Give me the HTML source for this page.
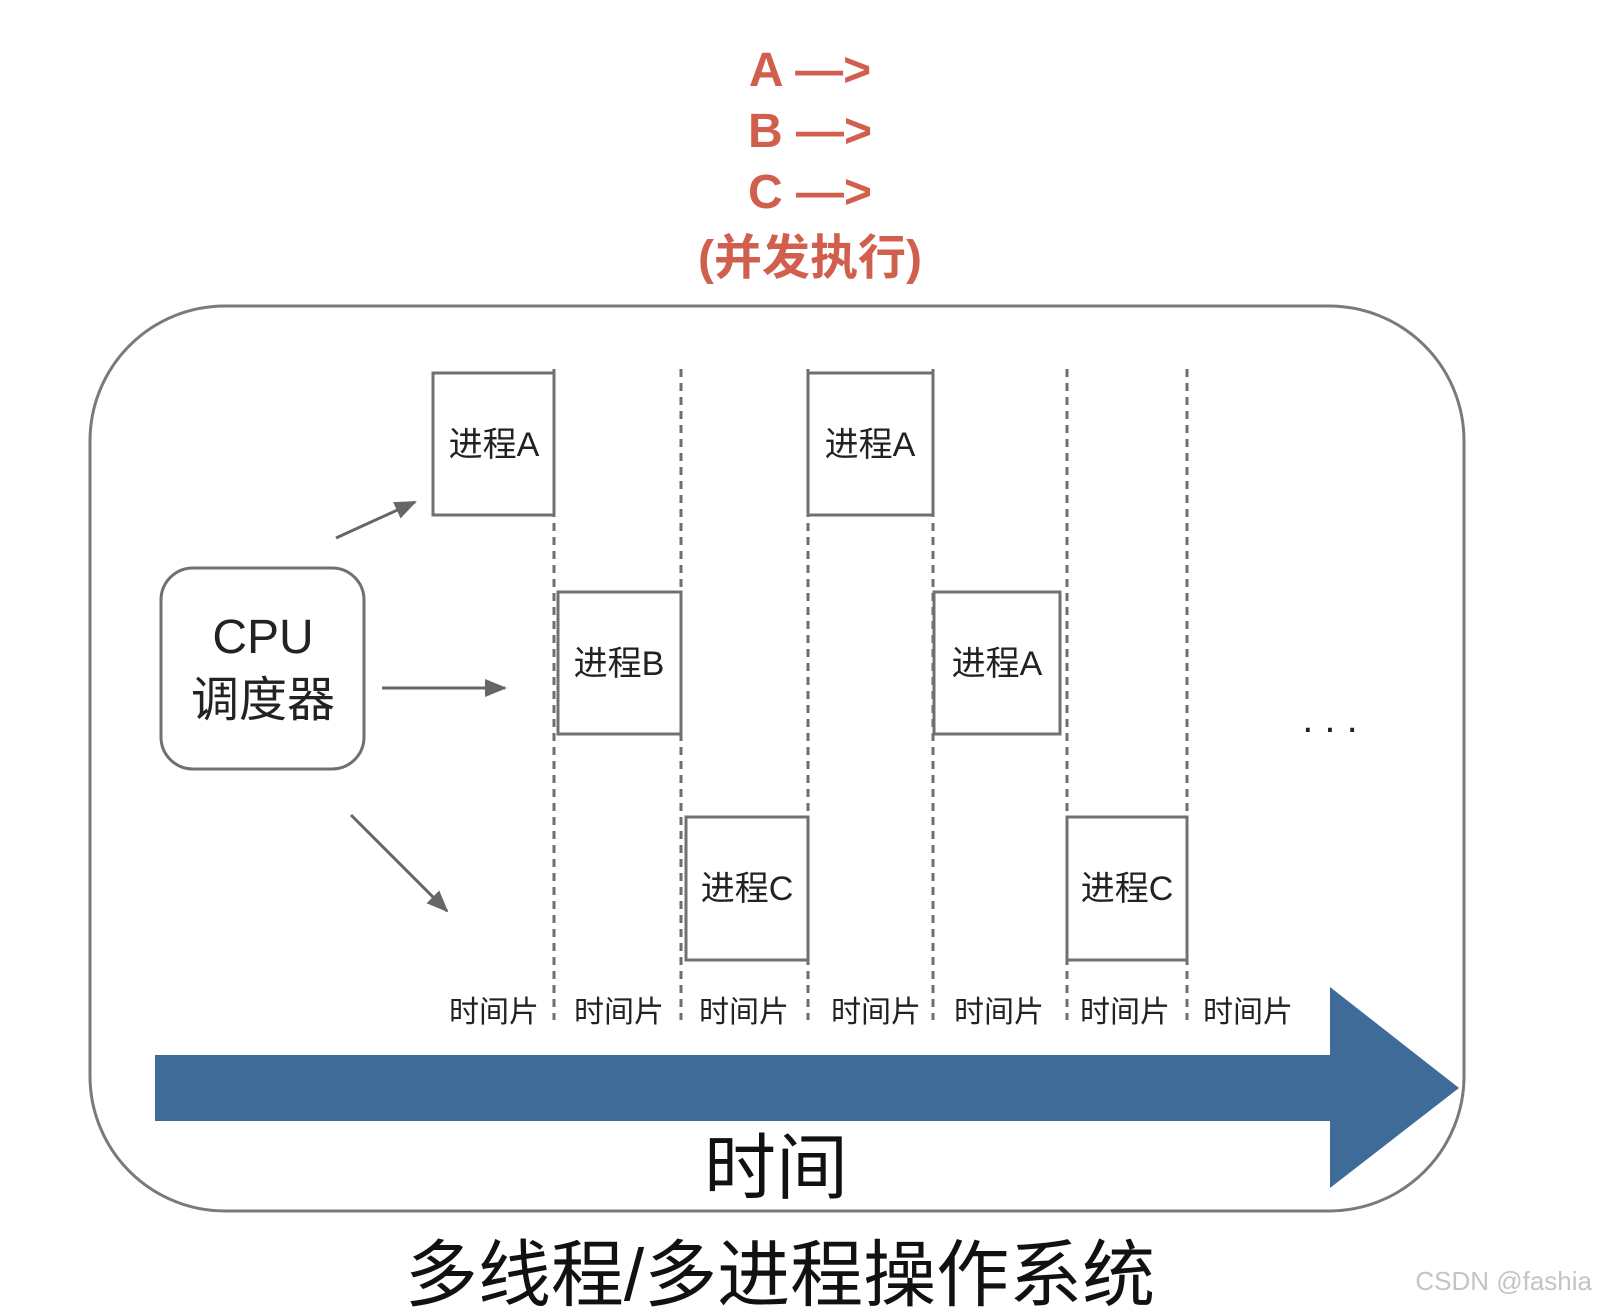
<!DOCTYPE html>
<html><head><meta charset="utf-8"><style>
body{margin:0;background:#fff;}
svg text{font-family:"Liberation Sans","Noto Sans CJK SC",sans-serif;}
</style></head><body>
<svg width="1598" height="1308" xmlns="http://www.w3.org/2000/svg">
<defs>
<marker id="ah" markerWidth="22" markerHeight="18" refX="20" refY="9" orient="auto" markerUnits="userSpaceOnUse" viewBox="0 0 22 18">
<path d="M0,0 L22,9 L0,18 z" fill="#666"/></marker>
</defs>
<rect width="1598" height="1308" fill="#fff"/>
<g fill="#d0604d" font-weight="bold" font-size="48" text-anchor="middle">
<text x="810" y="86">A —&gt;</text>
<text x="810" y="147">B —&gt;</text>
<text x="810" y="208">C —&gt;</text>
<text x="810" y="274">(并发执行)</text>
</g>
<rect x="90" y="306" width="1374" height="905" rx="135" fill="none" stroke="#7a7a7c" stroke-width="3"/>
<g stroke="#6e6e70" stroke-width="3" stroke-dasharray="8,6">
<line x1="554" y1="369" x2="554" y2="1020"/>
<line x1="681" y1="369" x2="681" y2="1020"/>
<line x1="808" y1="369" x2="808" y2="1020"/>
<line x1="933" y1="369" x2="933" y2="1020"/>
<line x1="1067" y1="369" x2="1067" y2="1020"/>
<line x1="1187" y1="369" x2="1187" y2="1020"/>
</g>
<g fill="#fff" stroke="#707072" stroke-width="3">
<rect x="433" y="373" width="121" height="142"/>
<rect x="558" y="592" width="123" height="142"/>
<rect x="686" y="817" width="122" height="143"/>
<rect x="808" y="373" width="125" height="142"/>
<rect x="934" y="592" width="126" height="142"/>
<rect x="1067" y="817" width="120" height="143"/>
<rect x="161" y="568" width="203" height="201" rx="32"/>
</g>
<g fill="#222" font-size="34" text-anchor="middle">
<text x="494" y="456">进程A</text>
<text x="619" y="675">进程B</text>
<text x="747" y="900">进程C</text>
<text x="870" y="456">进程A</text>
<text x="997" y="675">进程A</text>
<text x="1127" y="900">进程C</text>
<text x="263" y="653" font-size="48">CPU</text>
<text x="263" y="716" font-size="48">调度器</text>
</g>
<g stroke="#666" stroke-width="3" marker-end="url(#ah)">
<line x1="336" y1="538" x2="415" y2="502"/>
<line x1="382" y1="688" x2="505" y2="688"/>
<line x1="351" y1="815" x2="447" y2="911"/>
</g>
<text x="1330" y="732" font-size="40" text-anchor="middle" fill="#222">. . .</text>
<g fill="#222" font-size="30" text-anchor="middle">
<text x="494" y="1022">时间片</text>
<text x="619" y="1022">时间片</text>
<text x="744" y="1022">时间片</text>
<text x="876" y="1022">时间片</text>
<text x="999" y="1022">时间片</text>
<text x="1125" y="1022">时间片</text>
<text x="1248" y="1022">时间片</text>
</g>
<path d="M155,1055 L1330,1055 L1330,987 L1459,1088 L1330,1188 L1330,1121 L155,1121 z" fill="#3f6b99"/>
<text x="776" y="1193" font-size="72" text-anchor="middle" fill="#111">时间</text>
<text x="780" y="1300" font-size="73" text-anchor="middle" fill="#111">多线程/多进程操作系统</text>
<text x="1592" y="1290" font-size="26" text-anchor="end" fill="#c4c4c4">CSDN @fashia</text>
</svg>
</body></html>
